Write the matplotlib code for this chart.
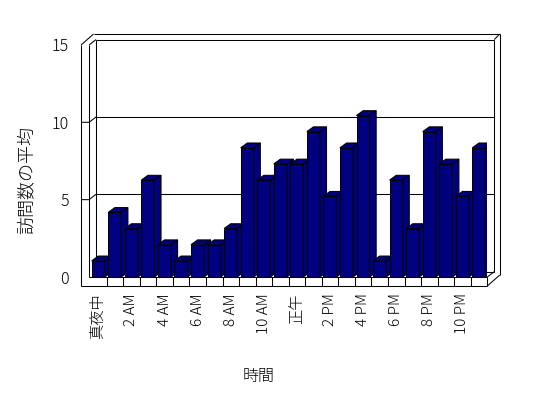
import matplotlib
matplotlib.use('Agg')
import matplotlib.pyplot as plt
from matplotlib.patches import Polygon

plt.rcParams['font.family'] = ['Noto Sans CJK JP', 'DejaVu Sans']
plt.rcParams['font.weight'] = 'light'
plt.rcParams['axes.labelweight'] = 'light'

hours = ['真夜中', '1 AM', '2 AM', '3 AM', '4 AM', '5 AM', '6 AM', '7 AM',
         '8 AM', '9 AM', '10 AM', '11 AM', '正午', '1 PM', '2 PM', '3 PM',
         '4 PM', '5 PM', '6 PM', '7 PM', '8 PM', '9 PM', '10 PM', '11 PM']
visits = [1, 4, 3, 6, 2, 1, 2, 2, 3, 8, 6, 7, 7, 9, 5, 8, 10, 1, 6, 3, 9, 7, 5, 8]
y_ticks = [0, 5, 10, 15]

navy = '#000080'
lw = 0.75

# pixel layout of the plot box (front floor edge / left wall front)
W, H = 548, 398
x0_px, x1_px = 90.1, 487.3
y0_px, y15_px = 277.0, 44.95
cat_px = (x1_px - x0_px) / len(hours)
val_px = (y0_px - y15_px) / 15
bar_px = 16.15  # bars sit in a nearer plane, slightly larger scale

fig = plt.figure(figsize=(W / 100, H / 100), dpi=100)
ax = fig.add_axes([x0_px / W, (H - y0_px) / H, (x1_px - x0_px) / W, (y0_px - y15_px) / H])
ax.set_xlim(0, len(hours))
ax.set_ylim(0, 15)
for s in ax.spines.values():
    s.set_visible(False)

# depths in data units
wdx, wdy = 7 / cat_px, 5.4 / val_px      # back wall plane
odx, ody = 12.5 / cat_px, 11 / val_px    # outer edge of the box
lwx = 8 / cat_px                          # left wall thickness
fl = 9 / val_px                           # floor thickness
inner = -1 / cat_px
outer = inner - lwx
n = len(hours)


def line(xs, ys):
    ax.plot(xs, ys, color='black', lw=lw, clip_on=False, zorder=1,
            solid_capstyle='butt')


# left wall
line([outer, outer], [-fl, 15])
line([inner, inner], [0, 15])
line([outer, outer + odx], [15, 15 + ody])
line([inner, inner + wdx], [15, 15 + wdy])
# top and back wall
line([outer + odx, n + odx], [15 + ody, 15 + ody])
line([inner + wdx, n + wdx], [15 + wdy, 15 + wdy])
line([inner + wdx, inner + wdx], [wdy, 15 + wdy])
line([n + wdx, n + wdx], [wdy, 15 + wdy])
line([n + odx, n + odx], [-fl + ody, 15 + ody])
line([n + odx, n + wdx], [15 + ody, 15 + wdy])
# floor
line([outer, n], [-fl, -fl])
line([inner, n], [0, 0])
line([n, n], [-fl, 0])
line([n, n + odx], [-fl, -fl + ody])
line([n, n + wdx], [0, wdy])
line([inner + wdx, n + wdx], [wdy, wdy])
for i in range(1, n):
    line([i, i], [-fl, 0])
# gridlines and value ticks
for v in y_ticks[1:-1]:
    line([inner + wdx, n + wdx], [v + wdy, v + wdy])
    line([inner + wdx, inner, outer], [v + wdy, v, v])

ax.set_yticks(y_ticks)
ax.set_yticklabels([str(v) for v in y_ticks], fontsize=11.5)
ax.tick_params(axis='y', length=0, pad=(x0_px - 69) * 0.72)
ax.set_xticks([i + 0.5 for i in range(0, n, 2)])
ax.set_xticklabels(hours[::2], rotation=90, fontsize=11, va='top')
ax.tick_params(axis='x', length=0, pad=(293 - y0_px) * 0.72)

ax.set_xlabel('時間', fontsize=11.5)
ax.xaxis.set_label_coords((259 - x0_px) / (x1_px - x0_px), (y0_px - 376) / (y0_px - y15_px))
ax.xaxis.label.set_va('center')
ax.set_ylabel('訪問数の平均', fontsize=13)
ax.yaxis.set_label_coords((27 - x0_px) / (x1_px - x0_px), (y0_px - 180) / (y0_px - y15_px))
ax.yaxis.label.set_va('center')

# bars
axb = ax.twinx()
axb.set_ylim(0, 15 * val_px / bar_px)
axb.axis('off')
off, bw = 1.6 / cat_px, 0.79
bdx, bdy = 6.6 / cat_px, 4.8 / bar_px
bars = axb.bar([i + off for i in range(n)], visits, width=bw, align='edge',
               color=navy, edgecolor='black', lw=lw)
for i, (rect, v) in enumerate(zip(bars, visits)):
    z = 2 + i * 0.01
    rect.set_zorder(z)
    xl, xr = i + off, i + off + bw
    side = Polygon([(xr, 0), (xr + bdx, bdy), (xr + bdx, v + bdy), (xr, v)],
                   closed=True, facecolor=navy, edgecolor='black', lw=lw, zorder=z)
    top = Polygon([(xl, v), (xr, v), (xr + bdx, v + bdy), (xl + bdx, v + bdy)],
                  closed=True, facecolor=navy, edgecolor='black', lw=lw, zorder=z)
    axb.add_patch(side)
    axb.add_patch(top)

fig.savefig('out.png', dpi=100)
